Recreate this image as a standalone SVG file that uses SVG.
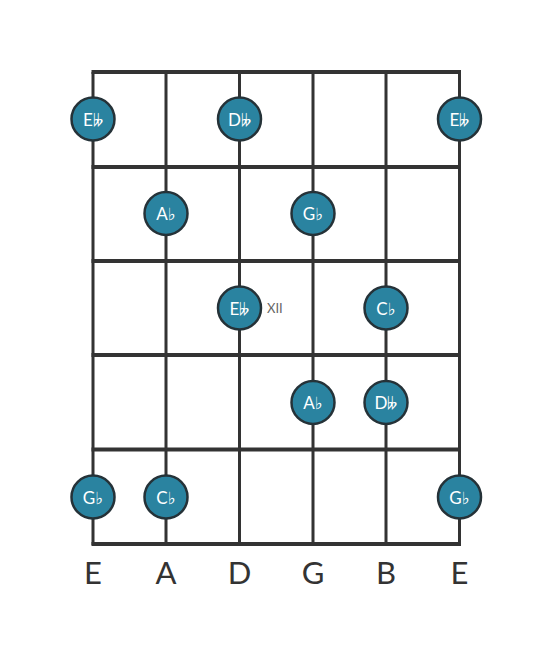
<svg xmlns="http://www.w3.org/2000/svg" width="553" height="656" viewBox="0 0 553 656">
<style>
.str{stroke:#333;stroke-width:3}
.fret{stroke:#333;stroke-width:4}
.dot circle{fill:#2a83a0;stroke:#253238;stroke-width:2.5}
.dot text{fill:#fff;font-family:Lato,"DejaVu Sans",sans-serif;font-size:17px;text-anchor:middle;dominant-baseline:central}
.lbl{fill:#333;font-family:Lato,"DejaVu Sans",sans-serif;font-size:31px;text-anchor:middle}
.fn{fill:#666;font-family:Lato,"DejaVu Sans",sans-serif;font-size:13px}
</style>
<rect width="553" height="656" fill="#fff"/>
<g id="connectors">
<line class="str" x1="93" y1="72" x2="93" y2="545"/>
<line class="str" x1="166" y1="72" x2="166" y2="545"/>
<line class="str" x1="239.5" y1="72" x2="239.5" y2="545"/>
<line class="str" x1="313" y1="72" x2="313" y2="545"/>
<line class="str" x1="386" y1="72" x2="386" y2="545"/>
<line class="str" x1="459.5" y1="72" x2="459.5" y2="545"/>
<line class="fret" x1="91.5" y1="72" x2="461" y2="72"/>
<line class="fret" x1="91.5" y1="167" x2="461" y2="167"/>
<line class="fret" x1="91.5" y1="261" x2="461" y2="261"/>
<line class="fret" x1="91.5" y1="355" x2="461" y2="355"/>
<line class="fret" x1="91.5" y1="449.5" x2="461" y2="449.5"/>
<line class="fret" x1="91.5" y1="544" x2="461" y2="544"/>
</g>
<g id="n1" class="dot"><circle cx="93" cy="119" r="21.5"/><text x="93" y="119">E𝄫</text></g>
<g id="n2" class="dot"><circle cx="239.5" cy="119" r="21.5"/><text x="239.5" y="119">D𝄫</text></g>
<g id="n3" class="dot"><circle cx="459.5" cy="119" r="21.5"/><text x="459.5" y="119">E𝄫</text></g>
<g id="n4" class="dot"><circle cx="166" cy="213.5" r="21.5"/><text x="166" y="213.5">A♭</text></g>
<g id="n5" class="dot"><circle cx="313" cy="213.5" r="21.5"/><text x="313" y="213.5">G♭</text></g>
<g id="n6" class="dot"><circle cx="239.5" cy="308" r="21.5"/><text x="239.5" y="308">E𝄫</text></g>
<g id="n7" class="dot"><circle cx="386" cy="308" r="21.5"/><text x="386" y="308">C♭</text></g>
<g id="n8" class="dot"><circle cx="313" cy="402.5" r="21.5"/><text x="313" y="402.5">A♭</text></g>
<g id="n9" class="dot"><circle cx="386" cy="402.5" r="21.5"/><text x="386" y="402.5">D𝄫</text></g>
<g id="n10" class="dot"><circle cx="93" cy="497" r="21.5"/><text x="93" y="497">G♭</text></g>
<g id="n11" class="dot"><circle cx="166" cy="497" r="21.5"/><text x="166" y="497">C♭</text></g>
<g id="n12" class="dot"><circle cx="459.5" cy="497" r="21.5"/><text x="459.5" y="497">G♭</text></g>
<text class="fn" x="267" y="313">XII</text>
<g id="labels">
<text class="lbl" x="93" y="584">E</text>
<text class="lbl" x="166" y="584">A</text>
<text class="lbl" x="239.5" y="584">D</text>
<text class="lbl" x="313" y="584">G</text>
<text class="lbl" x="386" y="584">B</text>
<text class="lbl" x="459.5" y="584">E</text>
</g>
</svg>
